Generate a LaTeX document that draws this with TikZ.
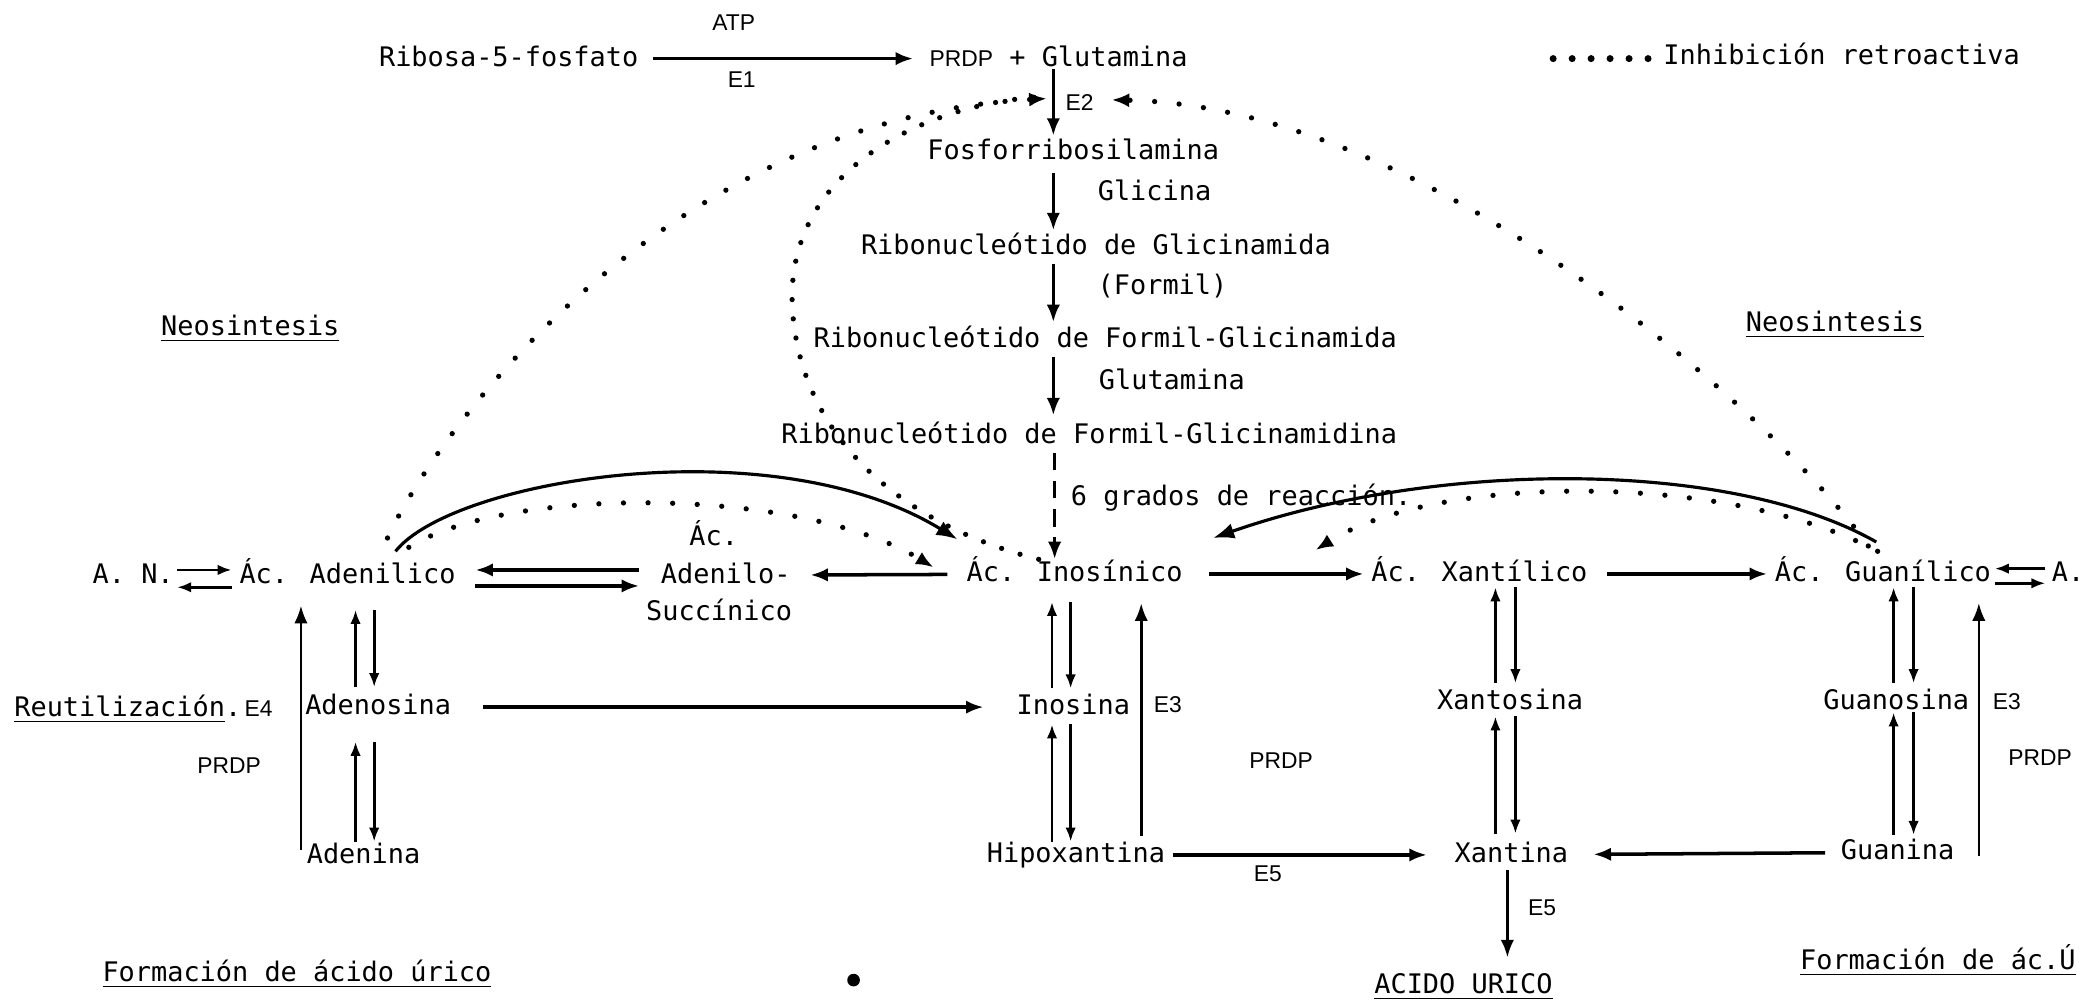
\documentclass[tikz,border=0pt]{standalone}
\usepackage{fontspec}
\setmainfont{DejaVu Sans Mono}
\newfontfamily\sansf{Liberation Sans}
\usetikzlibrary{arrows.meta,calc}
\tikzset{
	txt/.style={font=\fontsize{7.66}{9}\selectfont,inner sep=2pt,text height=6pt,text depth=1.6pt},
	lab/.style={txt,font=\sansf\fontsize{6.5}{8}\selectfont},
	flecha/.style={->,line width=1pt},
	par/.style={-{Latex[length=4pt,width=3pt]},line width=.8pt},
	fino/.style={->,line width=.5pt},
	curva/.style={-{Latex[length=6pt,width=4.5pt]},line width=.9pt},
	puntos/.style={-{Latex[length=5pt,width=4pt]},line width=1.5pt,line cap=round,dash pattern=on 0pt off 7pt}
}
\begin{document}
\begin{tikzpicture}[x=0.013316cm,y=-0.013316cm,>={Latex[length=5pt,width=3.8pt]}]
			\useasboundingbox (0,0) rectangle (1568,754);
			\node[txt] (ribosa) at (382,44) {Ribosa-5-fosfato};
			\node[txt] (prdpglu) at (795,44) {{\sansf\fontsize{6.5}{8}\selectfont PRDP} + Glutamina};
			\node[lab] (atp) at (551,17) {ATP};
			\node[lab] (e1) at (557,60) {E1};
			\node[txt] (fosfo) at (806,114) {Fosforribosilamina};
			\node[txt] (glicina) at (867,145) {Glicina};
			\node[txt] (ribgli) at (823,185) {Ribonucleótido de Glicinamida};
			\node[txt] (formil) at (873,215) {(Formil)};
			\node[txt] (ribfg) at (830,255) {Ribonucleótido de Formil-Glicinamida};
			\node[txt] (glutamina) at (880,287) {Glutamina};
			\node[txt] (ribfgd) at (818,327) {Ribonucleótido de Formil-Glicinamidina};
			\node[txt] (grados) at (932,374) {6 grados de reacción.};
			\node[txt] (leyenda) at (1383,43) {Inhibición retroactiva};
			\node[txt] (neoL) at (188,246) {\underline{Neosintesis}};
			\node[txt] (neoR) at (1378,243) {\underline{Neosintesis}};
			\node[txt] (an) at (100,432) {A. N.};
			\node[txt] (adenilico) at (261,432) {Ác. Adenilico};
			\node[txt] (acS) at (536,404) {Ác.};
			\node[txt] (adenilo) at (545,432) {Adenilo-};
			\node[txt] (succ) at (540,460) {Succínico};
			\node[txt] (inos) at (807,431) {Ác. Inosínico};
			\node[txt] (xant) at (1111,431) {Ác. Xantílico};
			\node[txt] (guan) at (1414,431) {Ác. Guanílico};
			\node[txt] (aR) at (1553,431) {A.};
			\node[txt,anchor=west] (reut) at (5,532) {\underline{Reutilización}.\hspace{1pt}{\sansf\fontsize{6.5}{8}\selectfont E4}};
			\node[txt] (adenosina) at (284,531) {Adenosina};
			\node[txt] (inosina) at (806,531) {Inosina};
			\node[lab] (e3L) at (877,529) {E3};
			\node[txt] (xantosina) at (1134,527) {Xantosina};
			\node[txt] (guanosina) at (1424,527) {Guanosina};
			\node[lab] (e3R) at (1507,527) {E3};
			\node[lab] (prdpA) at (172,575) {PRDP};
			\node[lab] (prdpB) at (962,571) {PRDP};
			\node[lab] (prdpC) at (1532,569) {PRDP};
			\node[txt] (adenina) at (273,643) {Adenina};
			\node[txt] (hipox) at (808,642) {Hipoxantina};
			\node[txt] (xantina) at (1135,642) {Xantina};
			\node[txt] (guanina) at (1425,640) {Guanina};
			\node[lab] (e5H) at (952,656) {E5};
			\node[lab] (e5V) at (1158,682) {E5};
			\node[txt] (acido) at (1099,740) {\underline{ACIDO URICO}};
			\node[txt] (formL) at (223,731) {\underline{Formación de ácido úrico}};
			\node[txt,anchor=west] (formR) at (1346,722) {\underline{Formación de ác.Ú}};
			\fill (641,736) circle(1.8pt);
			\draw[flecha,shorten <=2pt,shorten >=2.5pt] (ribosa) -- (prdpglu);
			\draw[flecha] ($(prdpglu)+(-4,8)$) -- coordinate[pos=.44] (e2arr) node[lab,right=1pt] (e2) {E2} ($(fosfo)+(-15,-12)$);
			\draw[flecha] ($(fosfo)+(-15,16)$) -- ($(ribgli)+(-32,-12)$);
			\draw[flecha] ($(ribgli)+(-32,13)$) -- ($(ribfg)+(-39,-13)$);
			\draw[flecha] ($(ribfg)+(-39,13)$) -- ($(ribfgd)+(-27,-15)$);
			\draw[flecha,dash pattern=on 5pt off 3pt] ($(ribfgd)+(-26,13)$) -- ($(inos)+(-15,-11)$);
			\draw[flecha,shorten <=3.3pt,shorten >=3.4pt] (inos) -- (adenilo);
			\draw[flecha,shorten <=5.3pt] (inos) -- (xant);
			\draw[flecha,shorten <=3.4pt] (xant) -- (guan);
			\draw[par] ($(an)+(33,-4)$) -- ($(adenilico)+(-87,-4)$);
			\draw[par] ($(adenilico)+(-87,9)$) -- ($(an)+(33,9)$);
			\draw[flecha] ($(adenilo)+(-65,-4)$) -- ($(adenilico)+(96,-4)$);
			\draw[flecha] ($(adenilico)+(96,8)$) -- ($(adenilo)+(-65,8)$);
			\draw[par] ($(aR)+(-17,-4)$) -- ($(guan)+(84,-4)$);
			\draw[par] ($(guan)+(84,7)$) -- ($(aR)+(-17,7)$);
			\draw[flecha,shorten <=6.8pt,shorten >=7.2pt] (adenosina) -- (inosina);
			\draw[flecha,shorten >=5.7pt] (hipox) -- (xantina);
			\draw[flecha,shorten <=2.3pt,shorten >=5pt] (guanina) -- (xantina);
			\draw[fino] ($(adenina)+(-47,-5)$) -- ($(adenilico)+(-35,23)$);
			\draw[par] ($(adenosina)+(-17,-15)$) -- ($(adenilico)+(6,26)$);
			\draw[par] ($(adenilico)+(20,26)$) -- ($(adenosina)+(-3,-15)$);
			\draw[par] ($(adenina)+(-6,-11)$) -- ($(adenosina)+(-17,26)$);
			\draw[par] ($(adenosina)+(-3,26)$) -- ($(adenina)+(8,-11)$);
			\draw[par] ($(inosina)+(-16,-14)$) -- ($(inos)+(-17,21)$);
			\draw[par] ($(inos)+(-3,21)$) -- ($(inosina)+(-2,-14)$);
			\draw[par] ($(hipox)+(-18,-10)$) -- ($(inosina)+(-16,13)$);
			\draw[par] ($(inosina)+(-2,13)$) -- ($(hipox)+(-4,-10)$);
			\draw[fino,line width=.8pt] ($(hipox)+(49,-14)$) -- ($(inos)+(50,22)$);
			\draw[par] ($(xantosina)+(-11,-14)$) -- ($(xant)+(12,10)$);
			\draw[par] ($(xant)+(27,10)$) -- ($(xantosina)+(4,-14)$);
			\draw[par] ($(xantina)+(-12,-16)$) -- ($(xantosina)+(-11,11)$);
			\draw[par] ($(xantosina)+(4,11)$) -- ($(xantina)+(3,-16)$);
			\draw[fino,line width=.8pt] ($(xantina)+(-3,11)$) -- ($(acido)+(33,-21)$);
			\draw[par] ($(guanosina)+(-2,-14)$) -- ($(guan)+(8,10)$);
			\draw[par] ($(guan)+(23,10)$) -- ($(guanosina)+(13,-14)$);
			\draw[par] ($(guanina)+(-3,-13)$) -- ($(guanosina)+(-2,8)$);
			\draw[par] ($(guanosina)+(13,8)$) -- ($(guanina)+(12,-13)$);
			\draw[fino,line width=.6pt] ($(guanina)+(61,3)$) -- ($(guan)+(72,22)$);
			\draw[curva] ($(adenilico)+(36,-18)$) .. controls (340,360) and (580,320) .. ($(inos)+(-88,-26)$);
			\draw[curva] ($(guan)+(-5,-24)$) .. controls (1300,345) and (1080,345) .. ($(inos)+(104,-27)$);
			\draw[puntos] ($(adenilico)+(30,-28)$) .. controls (330,320) and (500,90) .. ($(e2arr)+(-5,0)$);
			\draw[puntos,-,dash pattern=on 0pt off 5.5pt] ($(inos)+(-27,-11)$) .. controls (680,395) and (600,330) .. (595,230) .. controls (590,130) and (690,80) .. ($(e2arr)+(-14,-1)$);
			\draw[puntos] ($(adenilico)+(46,-21)$) .. controls (380,365) and (600,365) .. ($(inos)+(-106,-5)$);
			\draw[puntos] ($(guan)+(-4,-17)$) .. controls (1300,355) and (1080,355) .. ($(inos)+(181,-18)$);
			\draw[puntos] ($(guan)+(-11,-21)$) .. controls (1340,320) and (1080,80) .. ($(e2.east)+(7,-2)$);
			\draw[line width=2pt,line cap=round,dash pattern=on 0pt off 5.4pt] ($(leyenda.west)+(-77,1)$) -- ($(leyenda.west)+(-5,1)$);
\end{tikzpicture}
\end{document}
